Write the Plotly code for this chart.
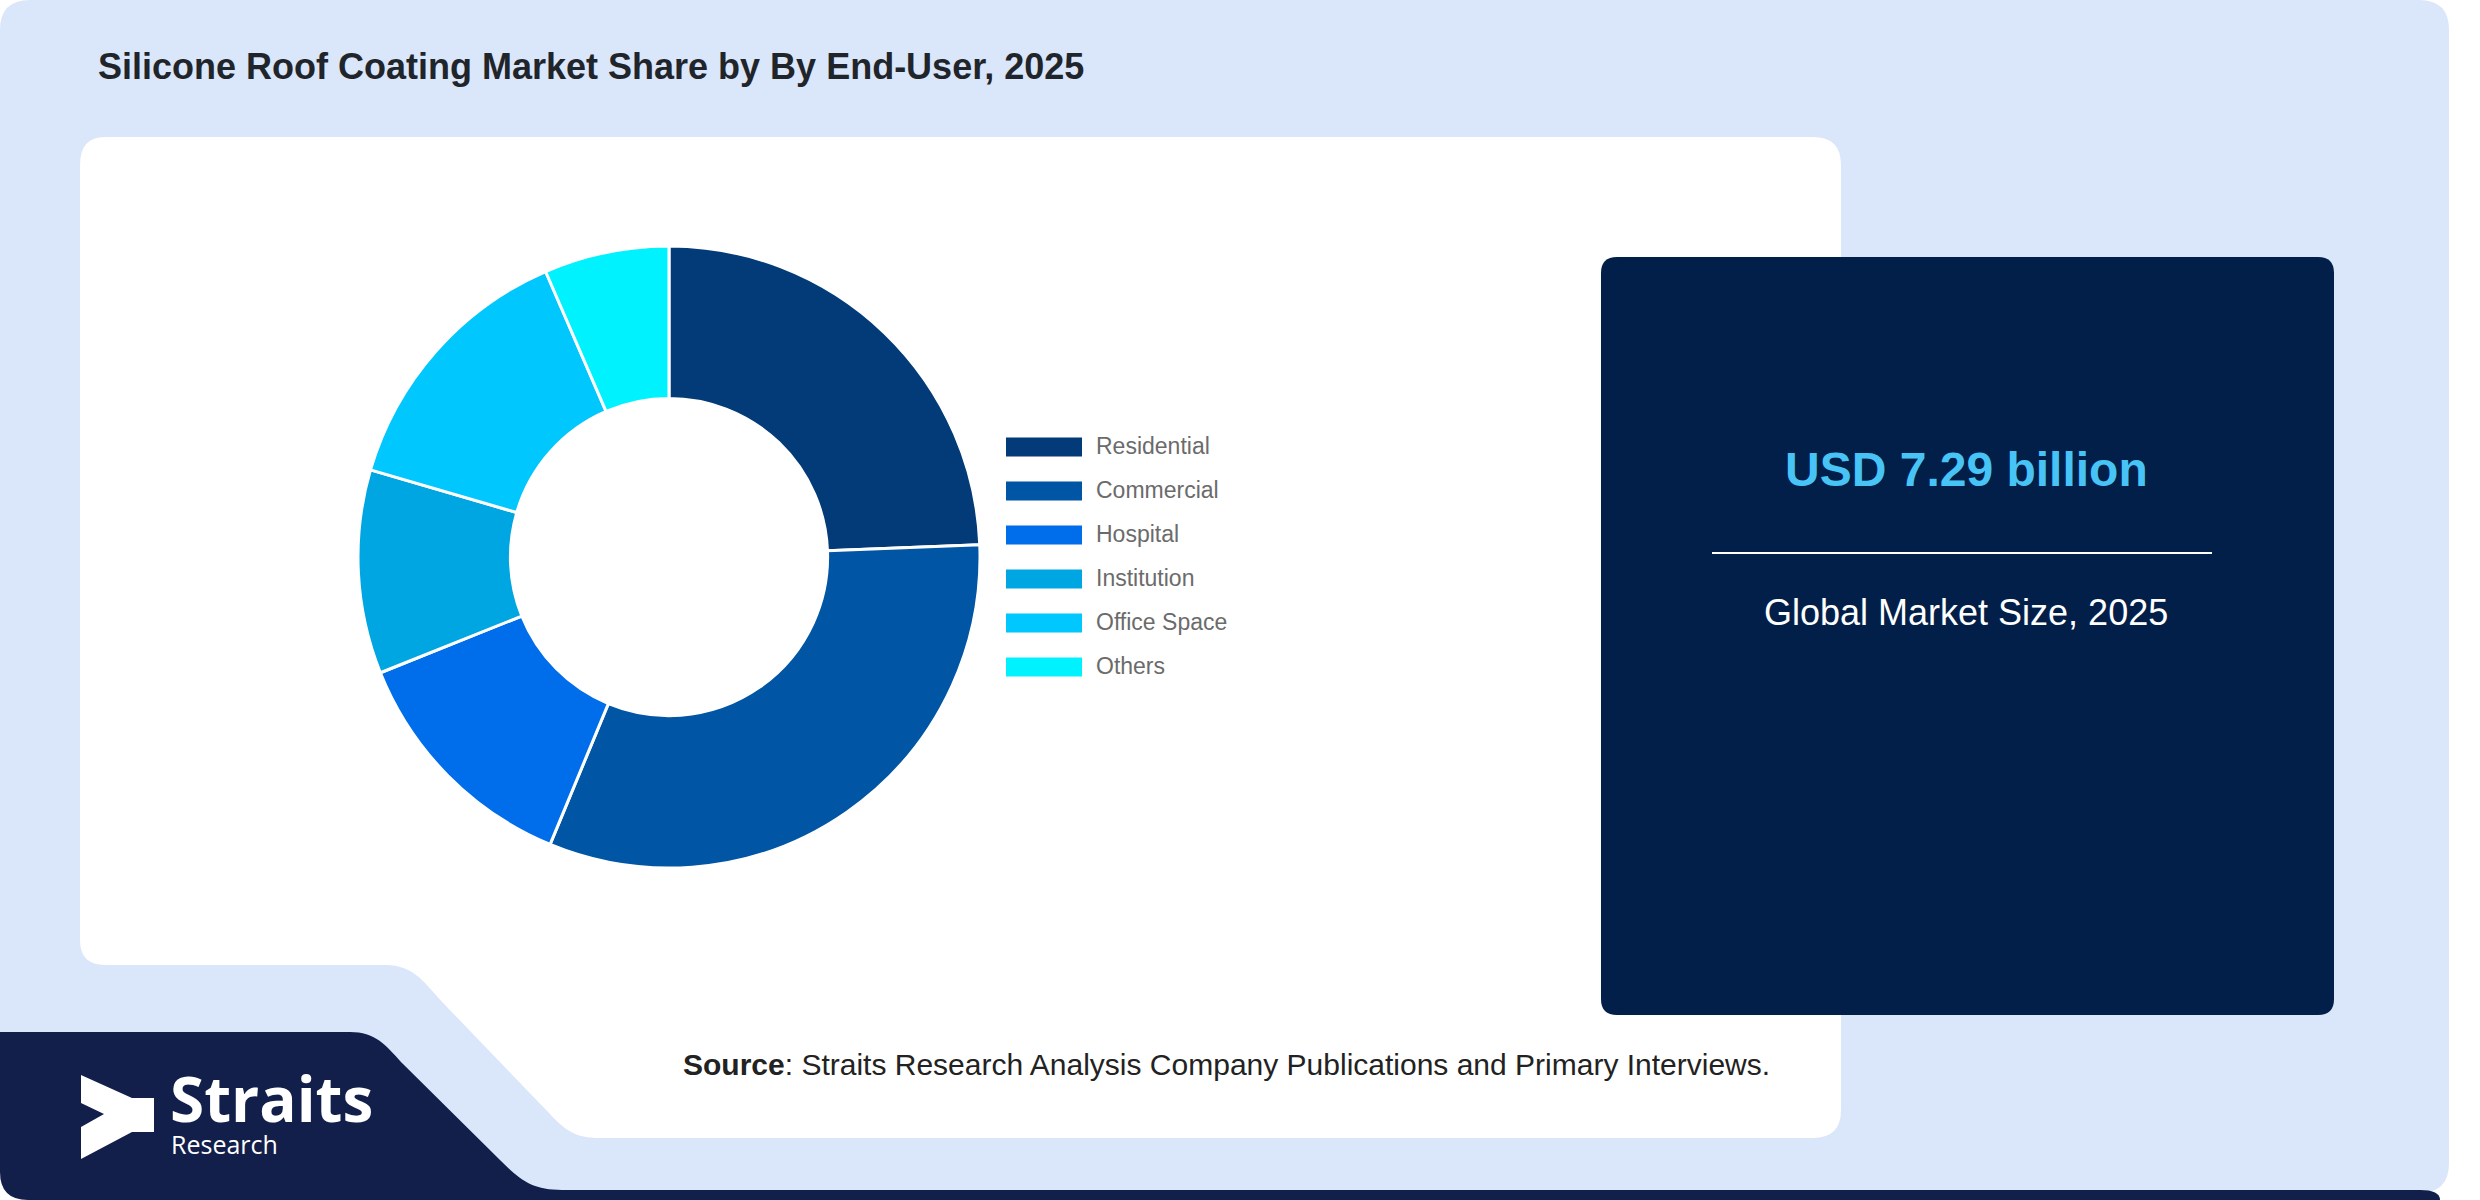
import plotly.graph_objects as go

W, H = 2480, 1200

# data
labels = ["Residential", "Commercial", "Hospital", "Institution", "Office Space", "Others"]
shares = [24.4, 31.9, 12.7, 10.6, 14.0, 6.5]
colors = ["#023b78", "#0055a5", "#006deb", "#00a6e2", "#00c7fe", "#00f2fe"]

title = "Silicone Roof Coating Market Share by By End-User, 2025"
market_size = "USD 7.29 billion"
market_label = "Global Market Size, 2025"
source_text = "<b>Source</b>: Straits Research Analysis Company Publications and Primary Interviews."

LIGHT = "#dae6f9"
NAVY_BOX = "#011f49"
NAVY_LOGO = "#121f4a"


def px(x):
    return x / W


def py(y):
    return 1 - y / H


def path(cmds):
    # cmds: list of (letter, [x, y, x, y ...]) in pixel space, top-left origin
    out = []
    for c, pts in cmds:
        coords = []
        for i in range(0, len(pts), 2):
            coords.append(f"{px(pts[i]):.5f},{py(pts[i+1]):.5f}")
        out.append(c + " ".join(coords))
    return " ".join(out)


def rrect(x0, y0, x1, y1, r):
    return path([("M", [x0 + r, y0]), ("L", [x1 - r, y0]), ("Q", [x1, y0, x1, y0 + r]),
                 ("L", [x1, y1 - r]), ("Q", [x1, y1, x1 - r, y1]), ("L", [x0 + r, y1]),
                 ("Q", [x0, y1, x0, y1 - r]), ("L", [x0, y0 + r]), ("Q", [x0, y0, x0 + r, y0]),
                 ("Z", [])])


def pshape(p, color):
    return dict(type="path", path=p, xref="paper", yref="paper",
                fillcolor=color, line=dict(width=0), layer="below")


# donut geometry in pixels
cx, cy, rad = 669, 557, 311

fig = go.Figure()
fig.add_trace(go.Pie(
    labels=labels, values=shares, sort=False, direction="clockwise",
    rotation=0, hole=0.51, textinfo="none", showlegend=False,
    marker=dict(colors=colors, line=dict(color="white", width=3)),
    domain=dict(x=[(cx - rad) / W, (cx + rad) / W],
                y=[1 - (cy + rad) / H, 1 - (cy - rad) / H]),
))

shapes = []
# light blue card
shapes.append(pshape(rrect(0, 0, 2449, 1193, 30), LIGHT))
# navy logo band + bottom strip
shapes.append(pshape(path([
    ("M", [0, 1032]), ("L", [350, 1032]), ("C", [375, 1032, 386, 1045, 401, 1062]),
    ("L", [500, 1160]), ("C", [520, 1180, 532, 1190, 562, 1190]), ("L", [2420, 1190]),
    ("Q", [2440, 1190, 2440, 1200]), ("L", [28, 1200]), ("Q", [0, 1200, 0, 1172]), ("Z", []),
]), NAVY_LOGO))
# white panel with notch
shapes.append(pshape(path([
    ("M", [105, 137]), ("L", [1813, 137]), ("Q", [1841, 137, 1841, 165]),
    ("L", [1841, 1110]), ("Q", [1841, 1138, 1813, 1138]), ("L", [600, 1138]),
    ("C", [575, 1138, 565, 1130, 550, 1114]), ("L", [445, 1005]),
    ("C", [425, 984, 415, 965, 385, 965]), ("L", [105, 965]), ("Q", [80, 965, 80, 940]),
    ("L", [80, 165]), ("Q", [80, 137, 105, 137]), ("Z", []),
]), "white"))
# navy info box
shapes.append(pshape(rrect(1601, 257, 2334, 1015, 16), NAVY_BOX))
shapes.append(dict(type="line", xref="paper", yref="paper",
                   x0=px(1712), x1=px(2212), y0=py(553), y1=py(553),
                   line=dict(color="white", width=2), layer="below"))
# logo mark
shapes.append(pshape(path([
    ("M", [81, 1075]), ("L", [132, 1098]), ("L", [154, 1098]), ("L", [154, 1132]),
    ("L", [132, 1132]), ("L", [81, 1159]), ("L", [81, 1127]), ("L", [104, 1114]),
    ("L", [81, 1103]), ("Z", []),
]), "white"))


def note(x, y, text, size, color, family="Liberation Sans", xanchor="left"):
    return dict(x=px(x), y=py(y), xref="paper", yref="paper", text=text,
                showarrow=False, xanchor=xanchor, yanchor="middle",
                font=dict(family=family, size=size, color=color))


annotations = []
# legend drawn by hand (wide swatches)
for i, (lab, col) in enumerate(zip(labels, colors)):
    yc = 447 + i * 44
    shapes.append(dict(type="rect", xref="paper", yref="paper",
                       x0=px(1006), x1=px(1082), y0=py(yc + 9.5), y1=py(yc - 9.5),
                       fillcolor=col, line=dict(width=0)))
    annotations.append(note(1094, yc - 1, lab, 23, "#6b6b6b"))

annotations += [
    note(96, 66, f"<b>{title}</b>", 36, "#1f252b"),
    note(1966, 470, f"<b>{market_size}</b>", 48, "#47c4f5", xanchor="center"),
    note(1966, 612, market_label, 36, "white", xanchor="center"),
    note(681, 1064, source_text, 30, "#222222"),
    note(168, 1098, "<b>Straits</b>", 62, "white", family="Open Sans"),
    note(169, 1144, "Research", 25, "white", family="Open Sans"),
]

fig.update_layout(
    width=W, height=H, margin=dict(l=0, r=0, t=0, b=0),
    paper_bgcolor="white", plot_bgcolor="rgba(0,0,0,0)",
    shapes=shapes, annotations=annotations, showlegend=False,
)

fig.write_html("out.html", config={"displayModeBar": False},
               post_script="document.body.style.margin='0';")
